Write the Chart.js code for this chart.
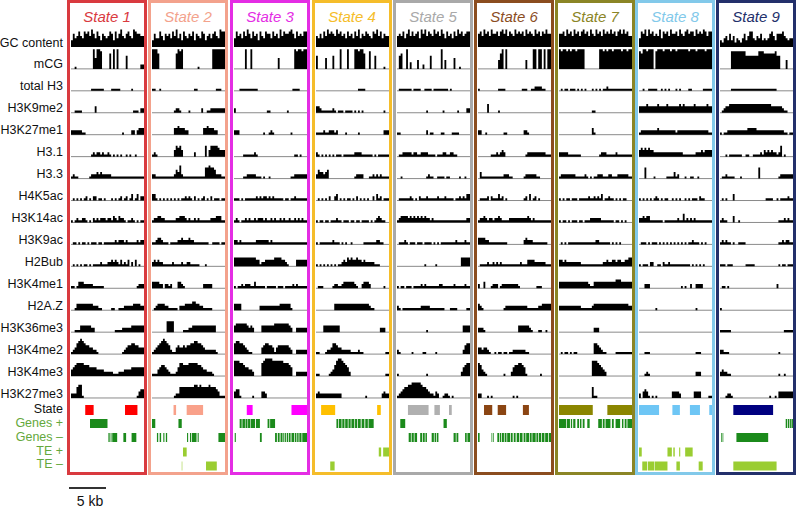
<!DOCTYPE html>
<html><head><meta charset="utf-8">
<script src="https://cdn.jsdelivr.net/npm/chart.js@4.4.1/dist/chart.umd.min.js"></script>
<style>
html,body{margin:0;padding:0;background:#fff;}
#root{position:relative;width:797px;height:508px;overflow:hidden;font-family:"Liberation Sans",Arial,sans-serif;}
.lab{position:absolute;right:734px;white-space:nowrap;font-size:12.5px;line-height:14px;color:#111;text-align:right;}
.panel{position:absolute;top:0;width:80px;height:475px;box-sizing:border-box;border:3px solid;}
.title{position:absolute;left:0;right:0;top:5px;text-align:center;font-style:italic;font-size:15px;line-height:18px;}
.panel canvas{position:absolute;left:1px;top:22px;}
#bar{position:absolute;left:69px;top:487px;width:37px;height:2px;background:#333;}
#kb{position:absolute;left:70px;width:40px;top:493px;text-align:center;font-size:14px;line-height:16px;color:#111;}
</style></head><body><div id="root"></div>
<script>
// ---------- DATA ----------
const trackNames = ["GC content","mCG","total H3","H3K9me2","H3K27me1","H3.1","H3.3","H4K5ac","H3K14ac","H3K9ac","H2Bub","H3K4me1","H2A.Z","H3K36me3","H3K4me2","H3K4me3","H3K27me3"];
const annNames = ["State","Genes +","Genes \u2013","TE +","TE \u2013"];
const stateNames = ["State 1","State 2","State 3","State 4","State 5","State 6","State 7","State 8","State 9"];

// signal heights per 40 bins (0-9), one string per track
const s1 = [
"4364575476 7586475365 4576374685 4675487665",
"6001000000 0009599800 0070909000 0600000002",
"0000000000 0011111110 0001111100 0000100000",
"0001111000 0000300000 0000000000 0000011102",
"2222222110 0000000000 0000000001 0000220233",
"0000000000 0012122121 1210101010 0101001000",
"2121100000 0122232322 2221111111 1111111111",
"0010101012 0102201101 0001010120 1201301302",
"0101211221 0102121222 1221321322 1011210101",
"0011010110 1011101101 1111121222 1211111212",
"1010101011 0101111211 1223232131 2130203010",
"1110133322 2221111110 0000000000 0000000122",
"0001333333 3332221100 0001100111 2222233332",
"0001113333 3322000000 0000011112 2222333333",
"0123567654 4332210000 0000000001 2344554433",
"2345666655 5444433332 2222111222 3333444444",
"2222566100 0000000000 0000000000 0000000134"];
const s2 = [
"5364475365 6475846375 4657365476 3564675487",
"0999700000 0000798900 0000001000 0000999999",
"1110010000 0000000000 0000110000 0000001110",
"0000000000 0001221000 0100000020 0112222222",
"0000000000 0003343332 2000000003 3433322000",
"1121000000 0003545300 0000200000 5035555433",
"2221111111 1112436211 1111111111 5565542221",
"1331010101 0101010112 1210201012 0102011101",
"1122332211 1111223332 1211212111 1112223331",
"1112332111 0111122322 2322111111 1100111101",
"3232322111 1121111211 2211111000 1000000000",
"3333322022 1200033210 0000000002 2222000000",
"0012333322 1111102223 3334433221 1111000000",
"0000000005 5550000011 1223333333 3333330000",
"1123456765 4211343343 4455665543 2222221000",
"0111345543 2111246655 5666665543 3222100000",
"0000000000 0001225555 5555665655 5565554311"];
const s3 = [
"5475647586 4756375476 6475648576 6786475657",
"0000000900 9000000000 0000050000 0000989989",
"0000111111 1111000000 0000000000 0001111000",
"0200000000 0000000001 1000000000 1000000000",
"0222000000 0000000100 1210000000 0010000000",
"0000001111 1121000000 0000000000 0000110100",
"0000001122 2221110100 1000000000 0011222222",
"0111010111 1112121221 2121111101 1011211111",
"1121011212 1121222121 1212112121 1211212121",
"1221211111 1112222222 1211111111 1111111111",
"0444444444 4443312233 3334444332 1000033333",
"0101121222 1131111101 1111011101 1112121111",
"3333300000 0000022222 2222223333 3310000000",
"2344444432 3200003333 3334444444 4320022222",
"3566554321 1000003455 4431344444 4320022222",
"6777665443 3200006788 8877777766 6540022222",
"0344100000 0100003320 0000000000 0000000000"];
const s4 = [
"3546475867 6586756475 6475846576 5476857465",
"9600005000 6000900090 0099899700 8006000010",
"1000000000 0000000000 0000111100 0000000000",
"3332111111 2101110111 1010101000 0000000010",
"0111121122 2120000100 0000100000 0000000022",
"2210101010 1011101111 1122221111 1101011111",
"3243323400 0000000000 0012222000 1121212111",
"0010101020 0230101011 0102010101 0020312011",
"0101101101 1121101110 1101101111 0101232110",
"0101111111 2111010100 1000000111 1111221100",
"0101010101 0101123243 4334332322 2221110000",
"0011100000 1221123333 3321002333 2000000010",
"0000000000 0333333333 3333333333 2110000000",
"0000033333 3333000000 0000000000 0000002220",
"0110001223 5543322222 1111211000 0000000001",
"0110000012 3578876542 0000000000 0000000001",
"0232222222 2222200000 0000000010 0000000232"];
const s5 = [
"4565746857 5674868576 5867586475 6475867567",
"0067009030 0040020006 0000090400 0050010000",
"0011111110 1111001111 0111111110 1000000000",
"0000000000 0000000100 0000001000 0000100002",
"0110000000 0000000201 1000011000 0111100000",
"0011222221 2211222211 1101112211 2211000000",
"0001000000 0000000121 1001111011 0000010010",
"1011111121 0102111211 1112111211 1101121213",
"1123333232 3232323221 2111111111 1111111112",
"1011121011 1011101111 0101011111 1112111121",
"0000000000 0000001000 0010000000 0000004444",
"0101101110 1111212111 1111221111 1121111121",
"2210111111 1111222221 1111111000 1111000001",
"0000000000 0000000100 0000000000 0000000333",
"4210000001 0000011000 0010000000 0000000245",
"2100000000 0000000100 0000000000 0000002456",
"0123455667 7777655432 2132001221 0100000000"];
const s6 = [
"5675867586 6757868576 5867675867 6586757686",
"0000000000 0047909000 0000000400 0990990909",
"1100000000 0011110000 0000011100 1122221100",
"0000004000 0010000000 0000000000 0000000000",
"0220010000 0000011000 0000002210 0000000000",
"0000000011 1212320000 0000000122 2222222211",
"0031111111 1111122211 0000001222 2221100000",
"2011112021 1131201000 0000001203 0120100000",
"0122321221 2232111122 2222222232 1211111111",
"2333322111 1111111000 0000002322 2111111110",
"1011112112 1212111111 1111211133 3322222211",
"1200300012 2201222222 2221000000 0001110000",
"3321000000 0000012222 2222222211 1111223333",
"2222100000 0000000000 0003333332 1000110010",
"2332332100 1011011011 2222222110 0000000000",
"6653210000 0000010002 4556654100 0000010000",
"0220001010 0000000000 1010000000 0000000000"];
const s7 = [
"5667586758 6757867586 5867586768 6757868675",
"9989989899 8999900000 0009989899 8999989989",
"1010110111 0101010001 0101011211 1111111111",
"0000000000 0000000001 1000000000 0000000000",
"0000000000 0000000003 1000000000 0000000000",
"2222221111 1110000000 0001222111 1121111111",
"1122222222 1111121010 1122211122 1112222221",
"0101011011 1011111211 2121301121 1010101100",
"0101101011 1011011122 2222111111 1011010100",
"0010101111 1111111111 1221111110 1010100000",
"4332322222 2221111111 1111122322 3323322334",
"3333333333 3333333211 3333333333 3344433333",
"2222222222 2221111112 3333333333 3333333332",
"0000000000 0000000000 2220000000 0000000000",
"0010110101 1000000000 5543211000 0011111111",
"0000000000 0000000007 7765432000 0000000000",
"0000000000 0000000005 1100000000 0000000000"];
const s8 = [
"5476858675 6584767586 6758657867 7586768757",
"9879989990 8999899989 9899999989 9989999899",
"0001001111 1001010100 0101000011 0000001111",
"2333343333 3433334333 3334343333 3433333343",
"1122222222 2322222222 2122222222 2222222221",
"2343434332 2222222222 2222211111 1122232333",
"0000500001 0000001111 3120001001 1001000000",
"0101010101 2101011001 0101001010 1110211000",
"1223233111 1111011111 1121141212 1211111111",
"1011101011 1010101010 1010101011 2111010100",
"0101110220 0110211211 1111111110 1010101000",
"0000222000 0000000000 0000101002 0022220000",
"0000000000 1000000000 0000000000 0010000000",
"0000000000 0000000000 0000000000 0000000000",
"0000111000 0000000000 0000000000 0011100000",
"0000121000 0000000000 0000000000 0022200000",
"2203431010 1000000003 3332000000 0333300001"];
const s9 = [
"3324536352 4324635774 3546343467 5366675434",
"0000000888 8888866666 6688877777 7866000400",
"0000000111 1111111111 1111111111 1100000000",
"0012334444 4444444444 4444444443 3333321100",
"1101122222 2222223333 3222222222 2222221101",
"0000101111 1110011001 1112132323 2212501000",
"0011211110 0010000000 0050000000 0001222222",
"0010100030 0000000000 0000001111 0010111121",
"2121100030 0100000000 0000000000 0001112121",
"2121211010 0111100000 0000000000 0001121221",
"1111011100 0000011111 0000000000 0001011011",
"0011010000 0000000000 0000000000 0020000000",
"0100000000 0000000000 0000000000 0000000000",
"1111111000 0000000000 0000000000 0000001111",
"0221110000 0000000000 0000000000 0001000000",
"0232211000 0000000000 0000000000 0001001000",
"0000122100 0000000000 0000000010 0103333333"];
const signals = [s1,s2,s3,s4,s5,s6,s7,s8,s9];

// annotation intervals [start,end] in bins (0-40)
const stateBars = [
 [[7.8,12.4],[29.6,36.4]],
 [[11.8,13.2],[19,28]],
 [[7,10.2],[31.5,40]],
 [[2.8,10.5],[33.5,35.5]],
 [[6,17.3],[20.5,23.5],[28.5,30]],
 [[3.3,7.8],[10.8,15.4],[24.6,27.9]],
 [[0,18.5],[26.5,40]],
 [[0,11],[18.3,22.4],[27.9,33.4],[38.5,40]],
 [[7.3,29.1]]];
const genesPlus = [
 [[6.6,7.0],[10.4,20.0]],
 [[0,1.8],[14.5,16.3]],
 [[3.1,4.2],[4.6,6.0],[6.3,7.4],[7.7,9.0],[9.3,11.5],[12,14.2],[18.4,19.4],[19.8,22.5]],
 [[11.2,12.2],[12.6,14],[14.4,15.6],[16,17.4],[17.8,19],[19.4,21],[21.4,22.6],[23,24.5],[25,26.5],[27,28.4],[28.8,31.6]],
 [[1.8,4.5],[25.5,27.3]],
 [],
 [[0,4],[4.4,6],[6.5,7.2],[7.8,9.0],[10,11],[11.5,12.3],[13,14],[15.5,16.8],[21.5,23.5],[24,25],[25.5,28.2],[29,30],[31,33.5],[34.5,35.3],[36,37],[37.5,40]],
 [],
 [[36,36.8],[37.2,38],[38.4,39.2],[39.5,40]]];
const genesMinus = [
 [[20.5,21.2],[21.7,22.2],[22.6,25.3],[28.7,30.2],[33.2,35.8]],
 [[2.7,3.4],[4.2,5.0],[6.2,6.8],[7.6,8.3],[19.2,19.8],[20.8,21.4],[21.8,24.4],[25,25.6],[36.4,40]],
 [[0.4,1.0],[14.2,15.2],[22.5,23.5],[24,25],[25.5,26.6],[27,27.6],[28,28.6],[29,29.6],[30,31],[31.5,33],[33.4,34.2],[34.6,35.4],[35.8,37],[37.4,40]],
 [],
 [[6.4,7.6],[8,9.2],[9.6,11],[12.7,13.8],[14.2,15.2],[15.6,16.4],[19,20.2],[20.6,21.4],[21.8,22.7],[31,32.2],[32.6,33.6],[37.3,38.2],[38.6,40]],
 [[0,0.9],[7.4,7.8],[8.2,8.6],[10.6,11.6],[12,12.6],[13,14.2],[14.6,15.6],[16,17.6],[18,19],[19.6,20.6],[21.2,22.6],[23,24.4],[25,26],[26.4,28],[28.4,29.4],[29.8,31.6],[32,33],[33.4,34.6],[35,36.4],[36.8,38.4],[38.8,40]],
 [],
 [[0,0.3]],
 [[0,0.4],[0.7,1.1],[1.4,1.8],[2.8,3.1],[9,26.4]]];
const tePlus = [
 [], [[17,19]], [], [[34.4,35.7],[36.8,40]], [], [[10.5,10.9]], [],
 [[0,1.5],[15.6,18],[18.8,19.6],[22,22.6],[25.3,29.4]], []];
const teMinus = [
 [], [[16.3,16.6],[29.6,35.5]], [], [[0,0.35],[7.8,10.2]], [], [], [],
 [[1.8,4.5],[4.9,8.4],[8.7,15.6],[20.5,22.4],[32.7,34.9]], [[7.3,31]]];

// ---------- STYLE / LAYOUT ----------
const borderColors = ['#d93a3f','#f3a28c','#e42de4','#f5bd2a','#a9a9a9','#8b4d1f','#8b8526','#82c9ea','#23306b'];
const barColors    = ['#ff0000','#f9a18a','#ff00ff','#ffc000','#b0b0b0','#8b4513','#8b8600','#6ec6f5','#000080'];
const PANEL_LEFT = [67,148,230,312,393,474,555,635,716];
const ROW = 21.94, NBINS = 40, HSTEP = 0.1, CW = 73, CH = 447;
const ANN_Y = [17.548,18.163,18.801,19.462,20.100];
const ANN_W = [10,9,9,9,9];
const GENE = '#1b8a1b', TE = '#9acd32', LABGREEN = '#64a83c';

const root = document.getElementById('root');
trackNames.forEach((t,k)=>{
  const d=document.createElement('div'); d.className='lab'; d.textContent=t;
  d.style.top=(42.5+ROW*k-7)+'px'; root.appendChild(d);
});
const annLabY=[409,423,437,451,464];
annNames.forEach((t,k)=>{
  const d=document.createElement('div'); d.className='lab'; d.textContent=t;
  d.style.top=(annLabY[k]-7)+'px'; if(k>0) d.style.color=LABGREEN; root.appendChild(d);
});
const bar=document.createElement('div'); bar.id='bar'; root.appendChild(bar);
const kb=document.createElement('div'); kb.id='kb'; kb.textContent='5 kb'; root.appendChild(kb);

function parse(str){ return Array.from(str.replace(/\s/g,'')).map(Number); }
function segs(list,y){ const o=[]; list.forEach(([a,b])=>{o.push({x:a,y:y},{x:b,y:y},{x:b,y:null});}); return o; }

Chart.defaults.animation=false;
signals.forEach((sig,p)=>{
  const pd=document.createElement('div'); pd.className='panel';
  pd.style.left=PANEL_LEFT[p]+'px'; pd.style.borderColor=borderColors[p];
  const tt=document.createElement('div'); tt.className='title'; tt.textContent=stateNames[p]; tt.style.color=borderColors[p];
  pd.appendChild(tt);
  const cv=document.createElement('canvas'); cv.width=CW; cv.height=CH; cv.style.width=CW+'px'; cv.style.height=CH+'px';
  pd.appendChild(cv); root.appendChild(pd);

  const datasets=[];
  sig.forEach((str,k)=>{
    const v=parse(str); const base=1+k; const pts=[];
    for(let i=0;i<NBINS;i++) pts.push({x:i,y:base-(v[i]||0)*HSTEP});
    pts.push({x:NBINS,y:base-(v[NBINS-1]||0)*HSTEP});
    datasets.push({data:pts,stepped:'after',fill:{value:base},backgroundColor:'#000',borderColor:'rgba(0,0,0,0)',borderWidth:0,pointRadius:0});
  });
  const ann=[[stateBars[p],barColors[p]],[genesPlus[p],GENE],[genesMinus[p],GENE],[tePlus[p],TE],[teMinus[p],TE]];
  ann.forEach(([list,col],r)=>{
    datasets.push({data:segs(list,ANN_Y[r]),borderColor:col,borderWidth:ANN_W[r],borderCapStyle:'butt',fill:false,pointRadius:0,spanGaps:false});
  });
  const bl=[]; sig.forEach((s,k)=>{ if(k>0) bl.push({x:0,y:1+k},{x:NBINS,y:1+k},{x:NBINS,y:null}); });
  datasets.push({data:bl,borderColor:'#8a8a8a',borderWidth:1,fill:false,pointRadius:0,spanGaps:false});

  new Chart(cv,{type:'line',data:{datasets},options:{
    responsive:false,animation:false,devicePixelRatio:1,
    layout:{padding:0},
    plugins:{legend:{display:false},tooltip:{enabled:false},title:{display:false}},
    elements:{point:{radius:0},line:{tension:0}},
    scales:{x:{type:'linear',min:0,max:NBINS,display:false},
            y:{type:'linear',min:0,max:CH/ROW,reverse:true,display:false}}
  }});
});
</script></body></html>
